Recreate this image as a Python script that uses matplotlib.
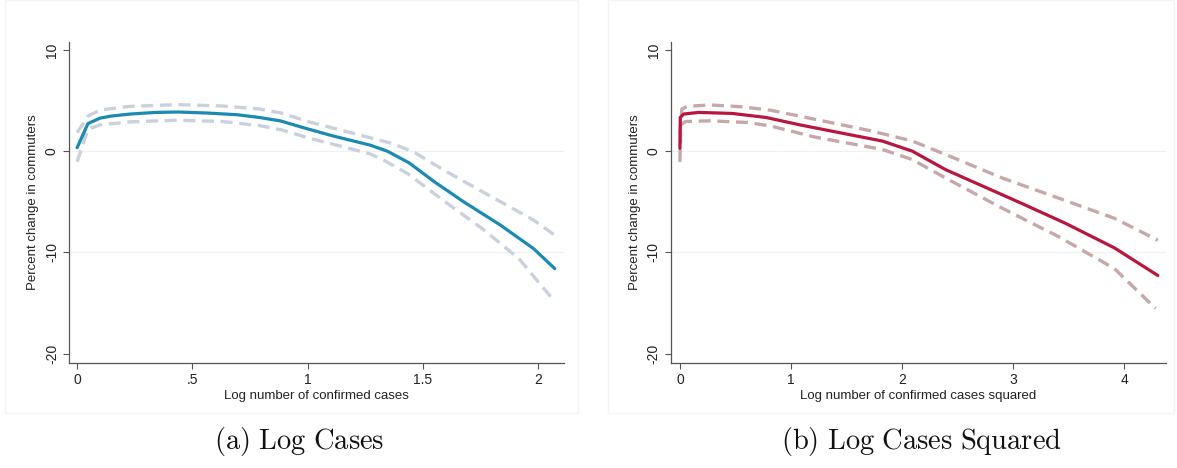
import matplotlib
matplotlib.use("Agg")
import matplotlib.pyplot as plt
from matplotlib.patches import Rectangle

plt.rcParams['font.family'] = ['Liberation Sans', 'DejaVu Sans']
plt.rcParams['mathtext.fontset'] = 'cm'

# panel (a): log cases
xa = [0, 0.047, 0.1, 0.148, 0.23, 0.34, 0.437, 0.566, 0.695, 0.79, 0.88, 1.0,
      1.11, 1.27, 1.345, 1.44, 1.547, 1.675, 1.836, 1.98, 2.072]
ya = [0.37, 2.76, 3.3, 3.5, 3.7, 3.86, 3.9, 3.8, 3.63, 3.36, 3.03, 2.23,
      1.53, 0.63, 0.03, -1.13, -2.96, -4.96, -7.29, -9.62, -11.6]
xa_hi = [0, 0.047, 0.1, 0.23, 0.437, 0.63, 0.79, 0.887, 1.0, 1.27, 1.37,
         1.466, 1.595, 1.756, 1.98, 2.072]
ya_hi = [1.86, 3.5, 4.1, 4.46, 4.63, 4.5, 4.2, 3.8, 2.96, 1.36, 0.77,
         -0.13, -1.9, -3.96, -6.79, -8.29]
xa_lo = [0, 0.047, 0.1, 0.23, 0.437, 0.63, 0.79, 0.887, 1.0, 1.27, 1.338,
         1.434, 1.595, 1.756, 1.916, 2.072]
ya_lo = [-1.03, 2.2, 2.63, 2.93, 3.09, 2.96, 2.56, 2.13, 1.36, -0.23, -0.97,
         -2.2, -4.96, -7.62, -10.6, -14.87]

# panel (b): log cases squared
xb = [0, 0.003, 0.034, 0.168, 0.47, 0.775, 1.078, 1.48, 1.82, 2.09, 2.39,
      2.73, 3.07, 3.47, 3.91, 4.3]
yb = [0.3, 3.36, 3.7, 3.86, 3.76, 3.36, 2.63, 1.76, 1.03, 0.03, -1.8,
      -3.46, -5.12, -7.12, -9.55, -12.28]
xb_hi = [0, 0.017, 0.067, 0.27, 0.54, 0.81, 1.21, 1.72, 2.09, 2.39, 2.9,
         3.41, 3.91, 4.3]
yb_hi = [1.7, 4.19, 4.46, 4.6, 4.43, 4.09, 3.19, 2.03, 1.03, -0.3, -2.63,
         -4.63, -6.62, -8.79]
xb_lo = [0, 0.007, 0.05, 0.27, 0.61, 0.81, 1.21, 1.82, 2.09, 2.39, 2.9,
         3.41, 3.91, 4.28]
yb_lo = [-1.03, 2.63, 2.96, 3.03, 2.86, 2.53, 1.43, 0.2, -0.8, -2.63, -5.62,
         -8.45, -11.6, -15.54]

fig = plt.figure(figsize=(11.77, 4.68), dpi=100)

# faint stata graph-region frames
for x0, w in [(5 / 1177, 573 / 1177), (608 / 1177, 566 / 1177)]:
    fig.patches.append(Rectangle((x0, 1 - 413 / 468), w, 413 / 468,
                                 transform=fig.transFigure, fill=False,
                                 edgecolor='#f2f4f6', linewidth=1.0))

panels = [
    dict(rect=[68.6 / 1177, 1 - 363 / 468, 495.4 / 1177, 321 / 468],
         x=xa, y=ya, xhi=xa_hi, yhi=ya_hi, xlo=xa_lo, ylo=ya_lo,
         col='#1a8ab3', cicol='#c9d1dd', xlim=(-0.037, 2.112),
         xticks=[0, 0.5, 1, 1.5, 2], xlabels=['0', '.5', '1', '1.5', '2'],
         xlabel='Log number of confirmed cases',
         cap=r'$\mathrm{(a)\ Log\ Cases}$', capx=299 / 1177),
    dict(rect=[670.5 / 1177, 1 - 363 / 468, 495.1 / 1177, 321 / 468],
         x=xb, y=yb, xhi=xb_hi, yhi=yb_hi, xlo=xb_lo, ylo=yb_lo,
         col='#b8163f', cicol='#c6a8a8', xlim=(-0.085, 4.37),
         xticks=[0, 1, 2, 3, 4], xlabels=['0', '1', '2', '3', '4'],
         xlabel='Log number of confirmed cases squared',
         cap=r'$\mathrm{(b)\ Log\ Cases\ Squared}$', capx=921 / 1177),
]

for p in panels:
    ax = fig.add_axes(p['rect'])
    for g in [0, -10]:
        ax.axhline(g, color='#eef0f2', linewidth=0.9, zorder=0)
    ax.plot(p['xhi'], p['yhi'], color=p['cicol'], linewidth=2.4,
            dashes=(3.6, 2.0), solid_capstyle='butt')
    ax.plot(p['xlo'], p['ylo'], color=p['cicol'], linewidth=2.4,
            dashes=(3.6, 2.0), solid_capstyle='butt')
    ax.plot(p['x'], p['y'], color=p['col'], linewidth=2.3,
            solid_capstyle='round')
    ax.set_xlim(*p['xlim'])
    ax.set_ylim(-20.94, 10.83)
    ax.set_xticks(p['xticks'])
    ax.set_xticklabels(p['xlabels'])
    ax.set_yticks([-20, -10, 0, 10])
    ax.set_yticklabels(['-20', '-10', '0', '10'], rotation=90, va='center')
    ax.spines['top'].set_visible(False)
    ax.spines['right'].set_visible(False)
    ax.spines['left'].set_color('#555555')
    ax.spines['bottom'].set_color('#555555')
    ax.spines['left'].set_linewidth(0.9)
    ax.spines['bottom'].set_linewidth(0.9)
    ax.tick_params(axis='both', labelsize=10, color='#555555', length=4,
                   width=0.8, pad=3, labelcolor='#222222')
    ax.set_xlabel(p['xlabel'], fontsize=9.5, color='#222222', labelpad=2)
    ax.set_ylabel('Percent change in commuters', fontsize=9.5,
                  color='#222222', labelpad=4)
    fig.text(p['capx'], 1 - 441 / 468, p['cap'], ha='center', va='center',
             fontsize=20.5, color='#111111')

fig.savefig('out.png', dpi=100)
